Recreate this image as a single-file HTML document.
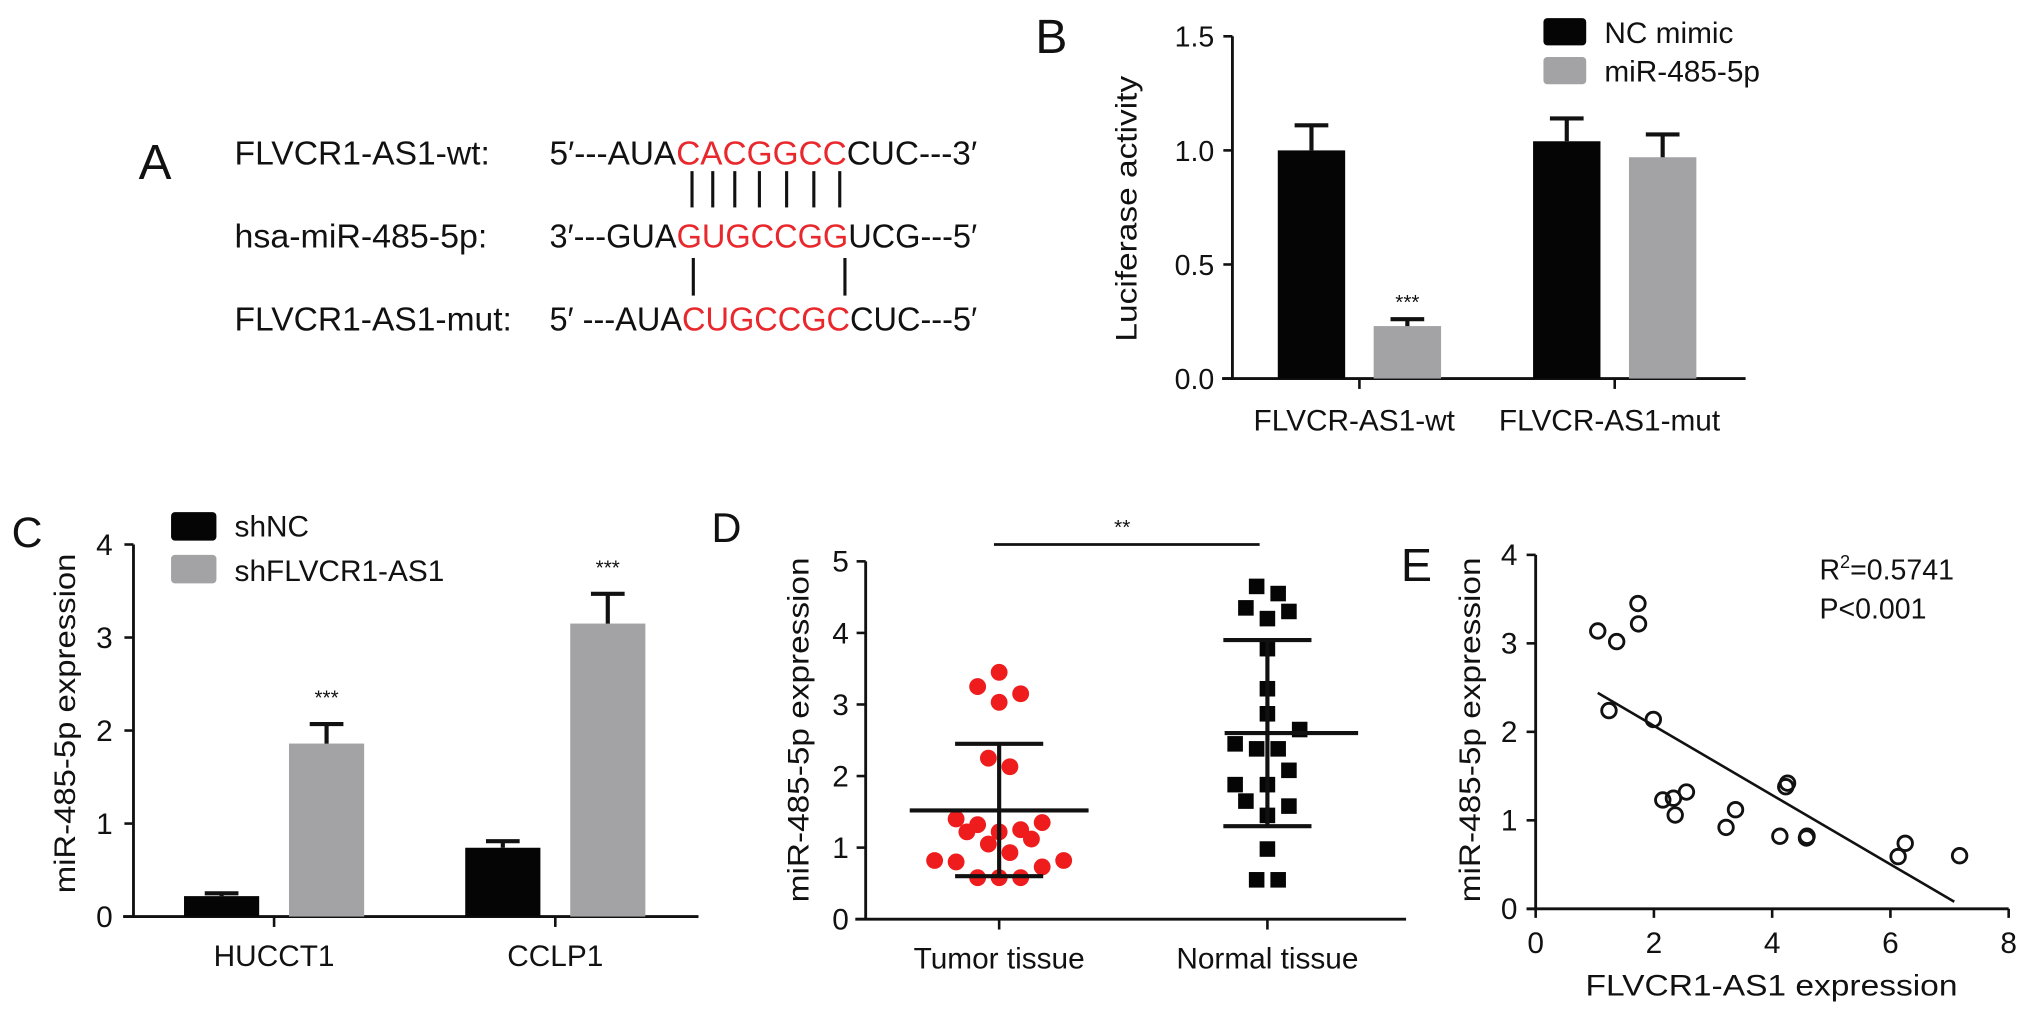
<!DOCTYPE html>
<html><head><meta charset="utf-8"><style>
html,body{margin:0;padding:0;background:#fff}
svg{display:block}
text{font-family:"Liberation Sans",Arial,sans-serif;fill:#111}
</style></head><body>
<svg id="fig" width="2032" height="1019" viewBox="0 0 1568 786" preserveAspectRatio="none" xmlns="http://www.w3.org/2000/svg">
<rect x="0" y="0" width="1568" height="786" fill="#fff"/>
<!-- Panel A -->
<g>
<text x="107" y="138" font-size="38">A</text>
<text x="181" y="127" font-size="26" textLength="197" lengthAdjust="spacingAndGlyphs">FLVCR1-AS1-wt:</text>
<text x="181" y="191" font-size="26" textLength="195" lengthAdjust="spacingAndGlyphs">hsa-miR-485-5p:</text>
<text x="181" y="255" font-size="26" textLength="214" lengthAdjust="spacingAndGlyphs">FLVCR1-AS1-mut:</text>
<text x="424" y="127" font-size="26" textLength="330" lengthAdjust="spacingAndGlyphs">5′---AUA<tspan fill="#e8282c">CACGGCC</tspan>CUC---3′</text>
<text x="424" y="191" font-size="26" textLength="330" lengthAdjust="spacingAndGlyphs">3′---GUA<tspan fill="#e8282c">GUGCCGG</tspan>UCG---5′</text>
<text x="424" y="255" font-size="26" textLength="330" lengthAdjust="spacingAndGlyphs">5′ ---AUA<tspan fill="#e8282c">CUGCCGC</tspan>CUC---5′</text>
<g stroke="#111" stroke-width="2.4">
<line x1="534" y1="132" x2="534" y2="160"/><line x1="550" y1="132" x2="550" y2="160"/><line x1="567" y1="132" x2="567" y2="160"/><line x1="586" y1="132" x2="586" y2="160"/><line x1="607" y1="132" x2="607" y2="160"/><line x1="628" y1="132" x2="628" y2="160"/><line x1="648" y1="132" x2="648" y2="160"/>
<line x1="535" y1="199" x2="535" y2="228"/><line x1="652" y1="199" x2="652" y2="228"/>
</g>
</g>
<g id="gB"></g>
<g id="gC"></g>
<g id="gD"></g>
<g id="gE"></g>
</svg>
<script>
// ---- Panel B data
const bCategories = ["FLVCR-AS1-wt", "FLVCR-AS1-mut"];
const bSeries = ["NC mimic", "miR-485-5p"];
const bNC = [1.00, 1.04];
const bMiR = [0.23, 0.97];
const bNCerr = [1.11, 1.14];
const bMiRerr = [0.26, 1.07];
const bTicks = ["0.0", "0.5", "1.0", "1.5"];
// ---- Panel C data
const cCategories = ["HUCCT1", "CCLP1"];
const cSeries = ["shNC", "shFLVCR1-AS1"];
const cNC = [0.22, 0.74];
const cSh = [1.86, 3.15];
const cNCerr = [0.25, 0.81];
const cSherr = [2.07, 3.47];
const cTicks = ["0", "1", "2", "3", "4"];
// ---- Panel D data
const dGroups = ["Tumor tissue", "Normal tissue"];
const dTumor = [3.45,3.25,3.15,3.03,2.25,2.13,1.40,1.35,1.32,1.22,1.22,1.25,1.12,1.05,0.93,0.82,0.80,0.82,0.73,0.58,0.58,0.58];
const dTumorSlot = [0,-2,2,0,-1,1,-4,4,-2,-3,0,2,3,-1,1,-6,-4,6,4,-2,0,2];
const dNormal = [4.65,4.55,4.35,4.30,4.20,3.78,3.22,2.87,2.65,2.45,2.38,2.38,2.08,1.88,1.88,1.65,1.58,1.45,0.98,0.55,0.55];
const dNormalSlot = [-1,1,-2,2,0,0,0,0,3,-3,-1,1,2,-3,0,-2,2,0,0,-1,1];
const dMean = [1.52, 2.60];
const dSDlow = [0.60, 1.30];
const dSDhigh = [2.45, 3.90];
const dTicks = ["0","1","2","3","4","5"];
// ---- Panel E data
const eX = [1.05,1.37,1.73,1.74,1.24,1.99,2.15,2.33,2.36,2.55,3.22,3.38,4.13,4.23,4.26,4.58,4.59,6.13,6.25,7.17];
const eY = [3.14,3.02,3.45,3.22,2.24,2.14,1.23,1.25,1.06,1.32,0.92,1.12,0.82,1.38,1.42,0.80,0.82,0.59,0.74,0.60];
const eFitX = [1.05, 7.08];
const eFitY = [2.44, 0.08];
const eXTicks = ["0","2","4","6","8"];
const eYTicks = ["0","1","2","3","4"];

const NS = "http://www.w3.org/2000/svg";
function mk(parent, tag, attrs, txt) {
  const el = document.createElementNS(NS, tag);
  for (const k in attrs) el.setAttribute(k, attrs[k]);
  if (txt !== undefined) el.textContent = txt;
  parent.appendChild(el);
  return el;
}
const BLACK = "#050505", GRAY = "#a3a3a6";

// ===== Panel B
(function(){
  const g = document.getElementById("gB");
  const x0 = 951, y0 = 292, yTop = 28, xEnd = 1347, maxV = 1.5;
  const y = v => y0 - (y0 - yTop) * v / maxV;
  const groupStart = [986, 1183], bw = 52, gap = 22;
  let t = mk(g, "text", {x: 799, y: 41, "font-size": 37}, "B");
  
  
  let a = mk(g, "line", {x1: x0, y1: yTop, x2: x0, y2: y0, stroke: "#111", "stroke-width": 2.2});
  
  
  a = mk(g, "line", {x1: x0 - 8, y1: y0, x2: xEnd, y2: y0, stroke: "#111", "stroke-width": 2.2});
  
  
  bTicks.forEach((lab, i) => {
    const v = i * 0.5;
    const l = mk(g, "line", {x1: x0 - 7, y1: y(v), x2: x0, y2: y(v), stroke: "#111", "stroke-width": 2});
    
    
    const tt = mk(g, "text", {x: x0 - 14, y: y(v) + 8, "font-size": 22, "text-anchor": "end"}, lab);
    
    
  });
  t = mk(g, "text", {x: 0, y: 0, "font-size": 23, "text-anchor": "middle", transform: "translate(877,161) rotate(-90)", textLength: 205, lengthAdjust: "spacingAndGlyphs"}, "Luciferase activity");
  
  
  bCategories.forEach((c, i) => {
    const xs = groupStart[i];
    const vals = [bNC[i], bMiR[i]], errs = [bNCerr[i], bMiRerr[i]], cols = [BLACK, GRAY];
    vals.forEach((v, j) => {
      const bx = xs + j * (bw + gap);
      const r = mk(g, "rect", {x: bx, y: y(v), width: bw, height: y0 - y(v), fill: cols[j]});
      
      
      const cx = bx + bw / 2;
      const e = mk(g, "path", {d: `M${cx},${y(v)}V${y(errs[j])}M${cx - 13},${y(errs[j])}H${cx + 13}`, stroke: "#111", "stroke-width": 3.2, fill: "none"});
      
      
    });
    const tx = xs + bw + gap / 2;
    const tk = mk(g, "line", {x1: tx, y1: y0, x2: tx, y2: y0 + 8, stroke: "#111", "stroke-width": 2});
    
    
    const lb = mk(g, "text", {x: tx - 4, y: 332, "font-size": 23, "text-anchor": "middle"}, c);
    
    
  });
  t = mk(g, "text", {x: groupStart[0] + bw + gap + bw / 2, y: y(bMiRerr[0]) - 8, "font-size": 16, "text-anchor": "middle"}, "***");
  
  
  bSeries.forEach((s, i) => {
    const r = mk(g, "rect", {x: 1191, y: 14 + i * 30, width: 33, height: 21, rx: 3, fill: i ? GRAY : BLACK});
    
    
    const lt = mk(g, "text", {x: 1238, y: 33 + i * 30, "font-size": 23}, s);
    
    
  });
})();

// ===== Panel C
(function(){
  const g = document.getElementById("gC");
  const x0 = 103, y0 = 707, yTop = 420, xEnd = 539, maxV = 4;
  const y = v => y0 - (y0 - yTop) * v / maxV;
  const groupStart = [142, 359], bw = 58, gap = 23;
  let t = mk(g, "text", {x: 9, y: 422, "font-size": 33}, "C");
  
  
  let a = mk(g, "line", {x1: x0, y1: yTop, x2: x0, y2: y0, stroke: "#111", "stroke-width": 2.2});
  
  
  a = mk(g, "line", {x1: x0 - 8, y1: y0, x2: xEnd, y2: y0, stroke: "#111", "stroke-width": 2.2});
  
  
  cTicks.forEach((lab, i) => {
    const l = mk(g, "line", {x1: x0 - 7, y1: y(i), x2: x0, y2: y(i), stroke: "#111", "stroke-width": 2});
    
    
    const tt = mk(g, "text", {x: x0 - 16, y: y(i) + 8, "font-size": 23, "text-anchor": "end"}, lab);
    
    
  });
  t = mk(g, "text", {x: 0, y: 0, "font-size": 23, "text-anchor": "middle", transform: "translate(58,558) rotate(-90)", textLength: 262, lengthAdjust: "spacingAndGlyphs"}, "miR-485-5p expression");
  
  
  cCategories.forEach((c, i) => {
    const xs = groupStart[i];
    const vals = [cNC[i], cSh[i]], errs = [cNCerr[i], cSherr[i]], cols = [BLACK, GRAY];
    vals.forEach((v, j) => {
      const bx = xs + j * (bw + gap);
      const r = mk(g, "rect", {x: bx, y: y(v), width: bw, height: y0 - y(v), fill: cols[j]});
      
      
      const cx = bx + bw / 2;
      const e = mk(g, "path", {d: `M${cx},${y(v)}V${y(errs[j])}M${cx - 13},${y(errs[j])}H${cx + 13}`, stroke: "#111", "stroke-width": 3.2, fill: "none"});
      
      
      if (j === 1) {
        const s = mk(g, "text", {x: cx, y: y(errs[j]) - 15, "font-size": 16, "text-anchor": "middle"}, "***");
        
        
      }
    });
    const tx = xs + bw + gap / 2;
    const tk = mk(g, "line", {x1: tx, y1: y0, x2: tx, y2: y0 + 8, stroke: "#111", "stroke-width": 2});
    
    
    const lb = mk(g, "text", {x: tx, y: 745, "font-size": 23, "text-anchor": "middle"}, c);
    
    
  });
  cSeries.forEach((s, i) => {
    const r = mk(g, "rect", {x: 132, y: 395 + i * 33, width: 35, height: 22, rx: 3, fill: i ? GRAY : BLACK});
    
    
    const lt = mk(g, "text", {x: 181, y: 414 + i * 34, "font-size": 23}, s);
    
    
  });
})();

// ===== Panel D
(function(){
  const g = document.getElementById("gD");
  const x0 = 668, y0 = 709, yTop = 433, xEnd = 1085, maxV = 5;
  const y = v => y0 - (y0 - yTop) * v / maxV;
  const centers = [771, 978], slotW = 8.3;
  let t = mk(g, "text", {x: 549, y: 418, "font-size": 32}, "D");
  
  
  let a = mk(g, "line", {x1: x0, y1: yTop, x2: x0, y2: y0, stroke: "#111", "stroke-width": 2.2});
  
  
  a = mk(g, "line", {x1: x0 - 8, y1: y0, x2: xEnd, y2: y0, stroke: "#111", "stroke-width": 2.2});
  
  
  dTicks.forEach((lab, i) => {
    const l = mk(g, "line", {x1: x0 - 7, y1: y(i), x2: x0, y2: y(i), stroke: "#111", "stroke-width": 2});
    
    
    const tt = mk(g, "text", {x: x0 - 13, y: y(i) + 8, "font-size": 23, "text-anchor": "end"}, lab);
    
    
  });
  t = mk(g, "text", {x: 0, y: 0, "font-size": 23, "text-anchor": "middle", transform: "translate(624,563) rotate(-90)", textLength: 266, lengthAdjust: "spacingAndGlyphs"}, "miR-485-5p expression");
  
  
  dTumor.forEach((v, i) => {
    const c = mk(g, "circle", {cx: centers[0] + dTumorSlot[i] * slotW, cy: y(v), r: 6.5, fill: "#ee1c1c"});
    
    
  });
  dNormal.forEach((v, i) => {
    const s = mk(g, "rect", {x: centers[1] + dNormalSlot[i] * slotW - 6, y: y(v) - 6, width: 12, height: 12, fill: BLACK});
    
    
  });
  const meanExt = [[-69, 69], [-33, 70]];
  dGroups.forEach((gname, i) => {
    const cx = centers[i];
    const p = mk(g, "path", {d: `M${cx + meanExt[i][0]},${y(dMean[i])}H${cx + meanExt[i][1]}M${cx},${y(dSDlow[i])}V${y(dSDhigh[i])}M${cx - 34},${y(dSDlow[i])}H${cx + 34}M${cx - 34},${y(dSDhigh[i])}H${cx + 34}`, stroke: "#111", "stroke-width": 3.2, fill: "none"});
    
    
    const tk = mk(g, "line", {x1: cx, y1: y0, x2: cx, y2: y0 + 8, stroke: "#111", "stroke-width": 2});
    
    
    const lb = mk(g, "text", {x: cx, y: 747, "font-size": 23, "text-anchor": "middle"}, gname);
    
    
  });
  const sl = mk(g, "line", {x1: 767, y1: 420, x2: 972, y2: 420, stroke: "#111", "stroke-width": 2.2});
  
  
  t = mk(g, "text", {x: 866, y: 412, "font-size": 16, "text-anchor": "middle"}, "**");
  
  
})();

// ===== Panel E
(function(){
  const g = document.getElementById("gE");
  const x0 = 1185, y0 = 701, yTop = 428, xEnd = 1550;
  const x = v => x0 + (xEnd - x0) * v / 8;
  const y = v => y0 - (y0 - yTop) * v / 4;
  let t = mk(g, "text", {x: 1081, y: 448, "font-size": 36}, "E");
  
  
  let a = mk(g, "line", {x1: x0, y1: yTop, x2: x0, y2: y0, stroke: "#111", "stroke-width": 2.2});
  
  
  a = mk(g, "line", {x1: x0 - 7, y1: y0, x2: xEnd, y2: y0, stroke: "#111", "stroke-width": 2.2});
  
  
  eYTicks.forEach((lab, i) => {
    const l = mk(g, "line", {x1: x0 - 7, y1: y(i), x2: x0, y2: y(i), stroke: "#111", "stroke-width": 2});
    
    
    const tt = mk(g, "text", {x: 1171, y: y(i) + 8, "font-size": 23, "text-anchor": "end"}, lab);
    
    
  });
  eXTicks.forEach((lab, i) => {
    const v = i * 2;
    const l = mk(g, "line", {x1: x(v), y1: y0, x2: x(v), y2: y0 + 7, stroke: "#111", "stroke-width": 2});
    
    
    const tt = mk(g, "text", {x: x(v), y: 735, "font-size": 23, "text-anchor": "middle"}, lab);
    
    
  });
  t = mk(g, "text", {x: 1367, y: 768, "font-size": 23, "text-anchor": "middle", textLength: 287, lengthAdjust: "spacingAndGlyphs"}, "FLVCR1-AS1 expression");
  
  
  t = mk(g, "text", {x: 0, y: 0, "font-size": 23, "text-anchor": "middle", transform: "translate(1142,563) rotate(-90)", textLength: 266, lengthAdjust: "spacingAndGlyphs"}, "miR-485-5p expression");
  
  
  const fit = mk(g, "line", {x1: x(eFitX[0]), y1: y(eFitY[0]), x2: x(eFitX[1]), y2: y(eFitY[1]), stroke: "#111", "stroke-width": 2});
  
  
  eX.forEach((v, i) => {
    const c = mk(g, "circle", {cx: x(v), cy: y(eY[i]), r: 5.6, fill: "none", stroke: "#111", "stroke-width": 2.2});
    
    
  });
  t = mk(g, "text", {x: 1404, y: 447, "font-size": 22}, "");
  
  
  t.innerHTML = 'R<tspan font-size="14" dy="-9">2</tspan><tspan dy="9">=0.5741</tspan>';
  t = mk(g, "text", {x: 1404, y: 477, "font-size": 22}, "P<0.001");
  
  
})();
</script>
</body></html>
